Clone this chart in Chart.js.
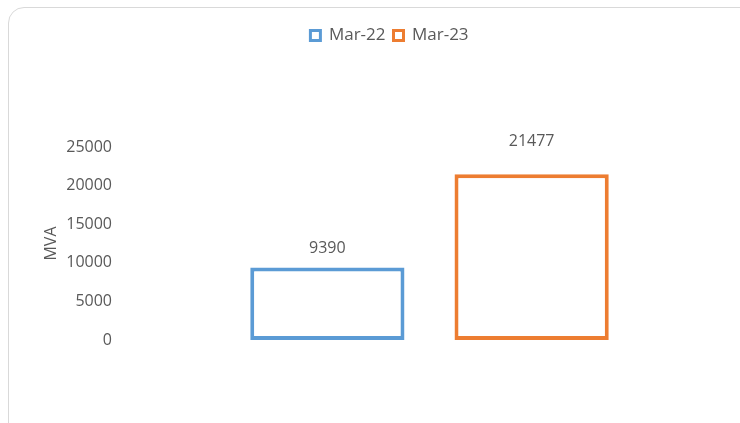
<!DOCTYPE html>
<html>
<head>
<meta charset="utf-8">
<script src="https://cdn.jsdelivr.net/npm/chart.js@4/dist/chart.umd.min.js"></script>
<style>
  body { margin: 0; background: #fff; }
  #frame {
    position: absolute; left: 8px; top: 7px; width: 800px; height: 500px;
    border: 1px solid #d9d9d9; border-radius: 16px; box-sizing: border-box;
  }
  #wrap { position: absolute; left: 0; top: 0; width: 740px; height: 423px; }
</style>
</head>
<body>
<div id="frame"></div>
<div id="wrap"><canvas id="chartOne"></canvas></div>
<script>
var categories = [''];
var seriesNames = ['Mar-22', 'Mar-23'];
var seriesValues = [[9390], [21477]];
var seriesColors = ['#5B9BD5', '#ED7D31'];
var labelOffsets = [19, 33];
var yTicks = [0, 5000, 10000, 15000, 20000, 25000];

var textColor = '#595959';
var fontFamily = '"Open Sans", sans-serif';

// values above each bar
var valueLabels = {
    id: 'valueLabels',
    afterDatasetsDraw: (chart) => {
        var ctx = chart.ctx;
        ctx.save();
        ctx.font = '16px ' + fontFamily;
        ctx.fillStyle = textColor;
        ctx.textAlign = 'center';
        ctx.textBaseline = 'middle';
        chart.data.datasets.forEach((ds, i) => {
            chart.getDatasetMeta(i).data.forEach((bar, j) => {
                ctx.fillText(ds.data[j], bar.x, bar.y - labelOffsets[i]);
            });
        });
        ctx.restore();
    }
};

// push plot area down below the legend
var legendSpace = {
    id: 'legendSpace',
    beforeInit: (chart) => {
        var fit = chart.legend.fit;
        chart.legend.fit = function () {
            fit.bind(chart.legend)();
            this.height = 128;
        };
    }
};

var genChart = () => {
    new Chart(
        document.getElementById('chartOne'),
        {
            type: 'bar',
            data: {
                labels: categories,
                datasets: seriesNames.map((name, i) => ({
                    label: name,
                    data: seriesValues[i],
                    backgroundColor: '#ffffff',
                    borderColor: seriesColors[i],
                    borderWidth: 4,
                    borderSkipped: false
                }))
            },
            plugins: [valueLabels, legendSpace],
            options: {
                responsive: true,
                maintainAspectRatio: false,
                animation: false,
                categoryPercentage: 0.66,
                barPercentage: 0.755,
                layout: {
                    padding: { top: 19, left: 40, right: 1, bottom: 83 }
                },
                plugins: {
                    legend: {
                        position: 'top',
                        labels: {
                            boxWidth: 10,
                            boxHeight: 10,
                            padding: 8,
                            color: textColor,
                            font: { family: fontFamily, size: 17 },
                            generateLabels: (chart) => {
                                return chart.data.datasets.map((ds, i) => ({
                                    text: ds.label,
                                    fillStyle: '#ffffff',
                                    strokeStyle: ds.borderColor,
                                    lineWidth: 3,
                                    fontColor: textColor,
                                    datasetIndex: i
                                }));
                            }
                        }
                    },
                    tooltip: { enabled: false }
                },
                scales: {
                    x: {
                        display: false
                    },
                    y: {
                        min: 0,
                        max: 25000,
                        afterFit: (scale) => { scale.width = 80; },
                        grid: { display: false, drawTicks: false },
                        border: { display: false },
                        afterBuildTicks: (scale) => {
                            scale.ticks = yTicks.map((v) => ({ value: v }));
                        },
                        ticks: {
                            padding: 8,
                            color: textColor,
                            font: { family: fontFamily, size: 16 },
                            callback: (value) => {
                                return value;
                            }
                        },
                        title: {
                            display: true,
                            text: 'MVA',
                            color: textColor,
                            font: { family: fontFamily, size: 16 },
                            padding: 2
                        }
                    }
                }
            }
        }
    );
}

genChart();
</script>
</body>
</html>
